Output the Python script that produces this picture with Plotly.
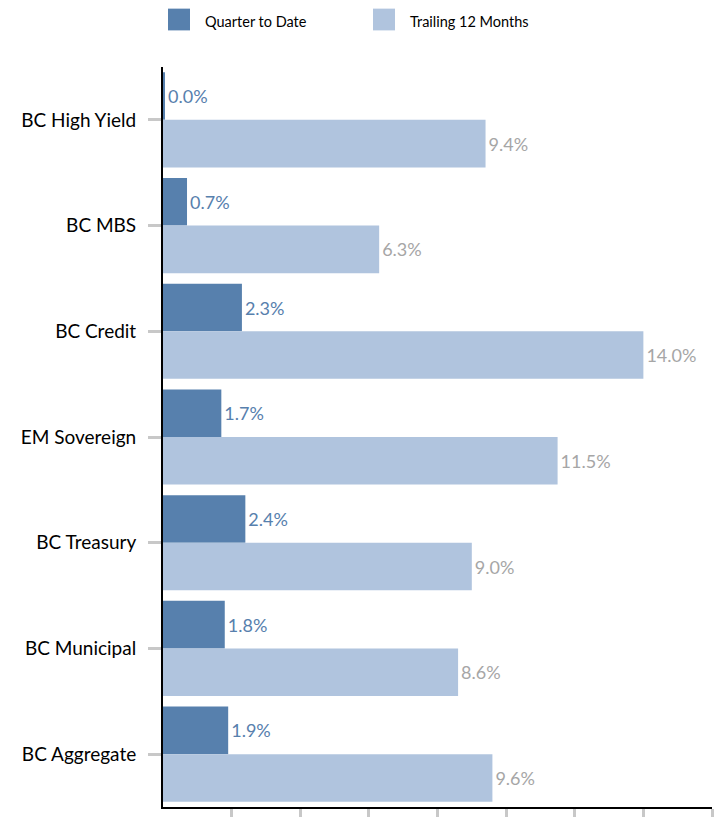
import plotly.graph_objects as go

categories = ["BC High Yield", "BC MBS", "BC Credit", "EM Sovereign",
              "BC Treasury", "BC Municipal", "BC Aggregate"]
qtd = [0.04, 0.7, 2.3, 1.7, 2.4, 1.8, 1.9]
ttm = [9.4, 6.3, 14.0, 11.5, 9.0, 8.6, 9.6]
series_names = ["Quarter to Date", "Trailing 12 Months"]
x_tickvals = [2, 4, 6, 8, 10, 12, 14, 16]

DARK = "#5780AD"
LIGHT = "#B0C4DE"
FONT = "Lato"

fig = go.Figure()
fig.add_trace(go.Bar(
    y=categories, x=qtd, orientation="h", name=series_names[0],
    marker=dict(color=DARK, line=dict(width=0)),
    texttemplate="%{x:.1f}%", textposition="outside",
    textfont=dict(color=DARK, size=18, family=FONT), cliponaxis=False,
))
fig.add_trace(go.Bar(
    y=categories, x=ttm, orientation="h", name=series_names[1],
    marker=dict(color=LIGHT, line=dict(width=0)),
    texttemplate="%{x:.1f}%", textposition="outside",
    textfont=dict(color="#A6A6A6", size=18, family=FONT), cliponaxis=False,
))

# manual legend (large squares like the reference)
W, H = 718, 821
ml, mr, mt, mb = 163, 6, 67, 6
pw, ph = W - ml - mr, H - mt - mb

def px_x(v):
    return (v - ml) / pw

def px_y(v):
    return (H - mb - v) / ph

legend_items = [(168, series_names[0], DARK), (373, series_names[1], LIGHT)]
for x0, name, col in legend_items:
    fig.add_shape(type="rect", xref="paper", yref="paper",
                  x0=px_x(x0), x1=px_x(x0 + 22), y0=px_y(30), y1=px_y(8),
                  fillcolor=col, line=dict(width=0))
    fig.add_annotation(xref="paper", yref="paper", x=px_x(x0 + 35), y=px_y(21),
                       text=name, showarrow=False, xanchor="left", yanchor="middle",
                       font=dict(size=14.5, color="#000000", family=FONT))

fig.update_layout(
    width=W, height=H,
    margin=dict(l=ml, r=mr, t=mt, b=mb, pad=0),
    paper_bgcolor="white", plot_bgcolor="white",
    barmode="group", bargap=0.1, bargroupgap=0,
    showlegend=False,
    font=dict(family=FONT, color="#000000"),
)
fig.update_xaxes(
    range=[0, 16], showgrid=False, zeroline=False,
    showline=True, linecolor="#000000", linewidth=2,
    tickmode="array", tickvals=x_tickvals, showticklabels=False,
    ticks="outside", ticklen=8, tickwidth=3, tickcolor="#C8C8C8",
)
fig.update_yaxes(
    autorange="reversed", showgrid=False, zeroline=False,
    showline=True, linecolor="#000000", linewidth=2,
    ticks="outside", ticklen=13, tickwidth=3, tickcolor="#C8C8C8",
    tickfont=dict(size=19, color="#000000", family=FONT),
    ticklabelstandoff=8,
)

fig.write_html("out.html")
